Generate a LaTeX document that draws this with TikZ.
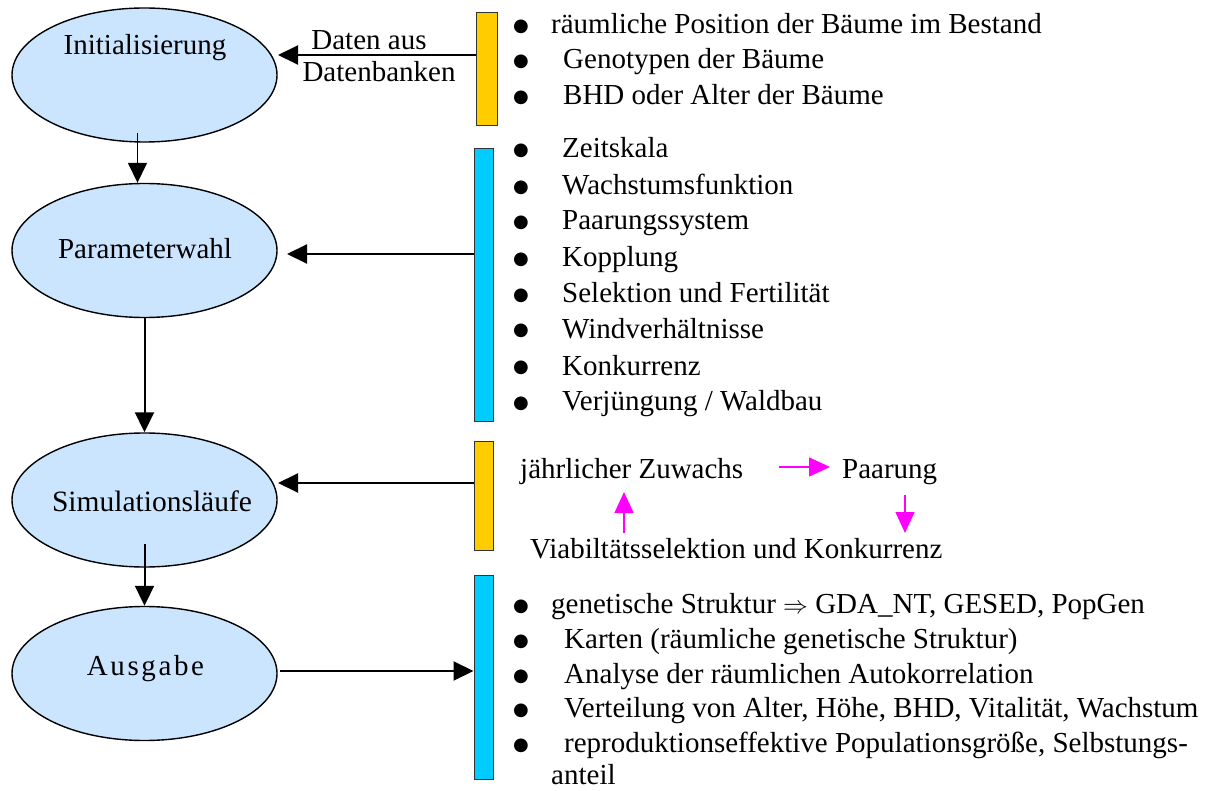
\documentclass[tikz,border=0pt]{standalone}
\usepackage{fontspec}
\setmainfont{Liberation Serif}
\newfontfamily\symfont{DejaVu Sans}
\usetikzlibrary{arrows.meta,shapes.geometric,calc}
\definecolor{ellfill}{HTML}{CCE5FF}
\definecolor{baryellow}{HTML}{FFCC00}
\definecolor{barcyan}{HTML}{00CCFF}
\definecolor{mag}{HTML}{FF00FF}
\newcommand\bigbul{{\symfont\fontsize{18}{18}\selectfont\raisebox{2pt}{●}}}
\newcommand\itm[2]{\makebox[#1pt][l]{\bigbul}#2}
\tikzset{
  stage/.style={ellipse, draw=black, line width=1.4pt, fill=ellfill, minimum width=265pt, minimum height=134pt, inner sep=0pt},
  lbl/.style={inner sep=0pt, anchor=base, font=\fontsize{29}{35}\selectfont},
  bar/.style={draw=black!80, line width=1pt, inner sep=0pt},
  item/.style={inner sep=0pt, anchor=base west, font=\fontsize{29}{35}\selectfont},
  arr/.style={line width=2pt, -{Triangle[length=20pt,width=19pt]}},
  marr/.style={draw=mag, line width=1.3pt, -{Triangle[length=21pt,width=19pt]}, color=mag}
}
\begin{document}
\begin{tikzpicture}[x=1pt,y=-1pt]
\useasboundingbox (0,0) rectangle (1223,791);
% stages
\node[stage] (init) at (144.5,75) {};
\node[stage] (param) at (144.5,250.5) {};
\node[stage] (sim) at (144.5,500) {};
\node[stage] (out) at (144.5,673.5) {};
\node[lbl] (initT) at (145,55) {Initialisierung};
\node[lbl] (paramT) at (145,259) {Parameterwahl};
\node[lbl, font=\fontsize{29.5}{35}\selectfont] (simT) at (152,511) {Simulationsläufe};
\node[lbl, font=\fontsize{29}{35}\selectfont\addfontfeature{LetterSpace=9}] (outT) at (145.5,675) {Ausgabe};
% bars
\node[bar, fill=baryellow, minimum width=21pt, minimum height=113pt] (bar1) at (486.5,69.5) {};
\node[bar, fill=barcyan, minimum width=19pt, minimum height=272pt] (bar2) at (483.5,285) {};
\node[bar, fill=baryellow, minimum width=19pt, minimum height=109pt] (bar3) at (483.5,495.5) {};
\node[bar, fill=barcyan, minimum width=19pt, minimum height=204pt] (bar4) at (483.5,677) {};
% vertical flow
\draw[arr, line width=1.6pt] ([xshift=-7pt,yshift=10pt]init.south) -- ([xshift=-7pt]param.north);
\draw[arr] (param.south) -- (sim.north);
\draw[arr] ([yshift=24pt]sim.south) -- (out.north);
% horizontal connectors
\draw[arr] (bar1.west |- 0,55) -- (278,55) coordinate (a1);
\node[lbl] (daten1) at (369,50) {Daten aus};
\node[lbl] (daten2) at (379,82) {Datenbanken};
\draw[arr] (bar2.west |- 0,254) -- (287,254) coordinate (a2);
\draw[arr] (bar3.west |- 0,483) -- (278,483) coordinate (a3);
\draw[arr] (280,671) coordinate (a4) -- (bar4.west |- 0,671);
% list 1
\node[item] (l1a) at (513,34) {\itm{38}{räumliche Position der Bäume im Bestand}};
\node[item] (l1b) at (513,69) {\itm{50}{Genotypen der Bäume}};
\node[item] (l1c) at (513,105) {\itm{50}{BHD oder Alter der Bäume}};
% list 2
\node[item] (l2a) at (513,158) {\itm{49}{Zeitskala}};
\node[item] (l2b) at (513,195) {\itm{49}{Wachstumsfunktion}};
\node[item] (l2c) at (513,230) {\itm{49}{Paarungssystem}};
\node[item] (l2d) at (513,267) {\itm{49}{Kopplung}};
\node[item] (l2e) at (513,303) {\itm{49}{Selektion und Fertilität}};
\node[item] (l2f) at (513,338) {\itm{49}{Windverhältnisse}};
\node[item] (l2g) at (513,375) {\itm{49}{Konkurrenz}};
\node[item] (l2h) at (513,410) {\itm{49}{Verjüngung / Waldbau}};
% list 3
\node[item] (zuw) at (520,478) {jährlicher Zuwachs};
\node[item] (paar) at (842,478) {Paarung};
\node[item] (viab) at (530,558) {Viabiltätsselektion und Konkurrenz};
\draw[marr] ($(zuw.base west)+(259,-11)$) -- ($(paar.base west)+(-12,-11)$);
\draw[marr] ($(paar.base west)+(63,17)$) -- ($(viab.base west)+(375,-25)$);
\draw[marr] ($(viab.base west)+(94,-25)$) -- ($(zuw.base west)+(104,14)$);
% list 4
\node[item] (l4a) at (513,613) {\itm{38}{genetische Struktur $\Rightarrow$ GDA\_NT, GESED, PopGen}};
\node[item] (l4b) at (513,648) {\itm{51}{Karten (räumliche genetische Struktur)}};
\node[item] (l4c) at (513,683) {\itm{51}{Analyse der räumlichen Autokorrelation}};
\node[item] (l4d) at (513,717) {\itm{51}{Verteilung von Alter, Höhe, BHD, Vitalität, Wachstum}};
\node[item] (l4e) at (513,752) {\itm{51}{reproduktionseffektive Populationsgröße, Selbstungs-}};
\node[item] (l4f) at (551,784) {anteil};
\end{tikzpicture}
\end{document}
